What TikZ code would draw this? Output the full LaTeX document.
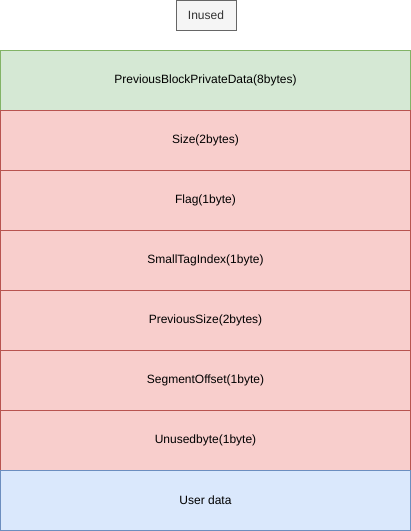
\documentclass[tikz,border=0pt]{standalone}
\usepackage{fontspec}
\setmainfont{Liberation Sans}
\usetikzlibrary{positioning}
\definecolor{greenfill}{HTML}{D5E8D4}
\definecolor{greenline}{HTML}{82B366}
\definecolor{redfill}{HTML}{F8CECC}
\definecolor{redline}{HTML}{B85450}
\definecolor{bluefill}{HTML}{DAE8FC}
\definecolor{blueline}{HTML}{6C8EBF}
\definecolor{grayfill}{HTML}{F5F5F5}
\definecolor{grayline}{HTML}{666666}
\definecolor{graytext}{HTML}{333333}

\begin{document}
\begin{tikzpicture}[x=1pt,y=-1pt]
    \tikzset{field/.style={draw,line width=1pt,minimum width=410pt,minimum height=60pt,
        inner sep=0pt,outer sep=0pt,font=\fontsize{12}{14}\selectfont},
      greenbox/.style={field,fill=greenfill,draw=greenline},
      redbox/.style={field,fill=redfill,draw=redline},
      bluebox/.style={field,fill=bluefill,draw=blueline}}
\useasboundingbox (0,0) rectangle (411,531);
\node[draw=grayline,fill=grayfill,text=graytext,line width=1pt,minimum width=60pt,minimum height=30pt,
  inner sep=0pt,font=\fontsize{12}{14}\selectfont] (state) at (206,15) {Inused};
\node[greenbox,anchor=north west] (prevdata) at (0.5,50.5) {PreviousBlockPrivateData(8bytes)};
\node[redbox,below=0pt of prevdata] (size) {Size(2bytes)};
\node[redbox,below=0pt of size] (flag) {Flag(1byte)};
\node[redbox,below=0pt of flag] (tagindex) {SmallTagIndex(1byte)};
\node[redbox,below=0pt of tagindex] (prevsize) {PreviousSize(2bytes)};
\node[redbox,below=0pt of prevsize] (segoffset) {SegmentOffset(1byte)};
\node[redbox,below=0pt of segoffset] (unusedbyte) {Unusedbyte(1byte)};
\node[bluebox,below=0pt of unusedbyte] (userdata) {User data};
\end{tikzpicture}
\end{document}
